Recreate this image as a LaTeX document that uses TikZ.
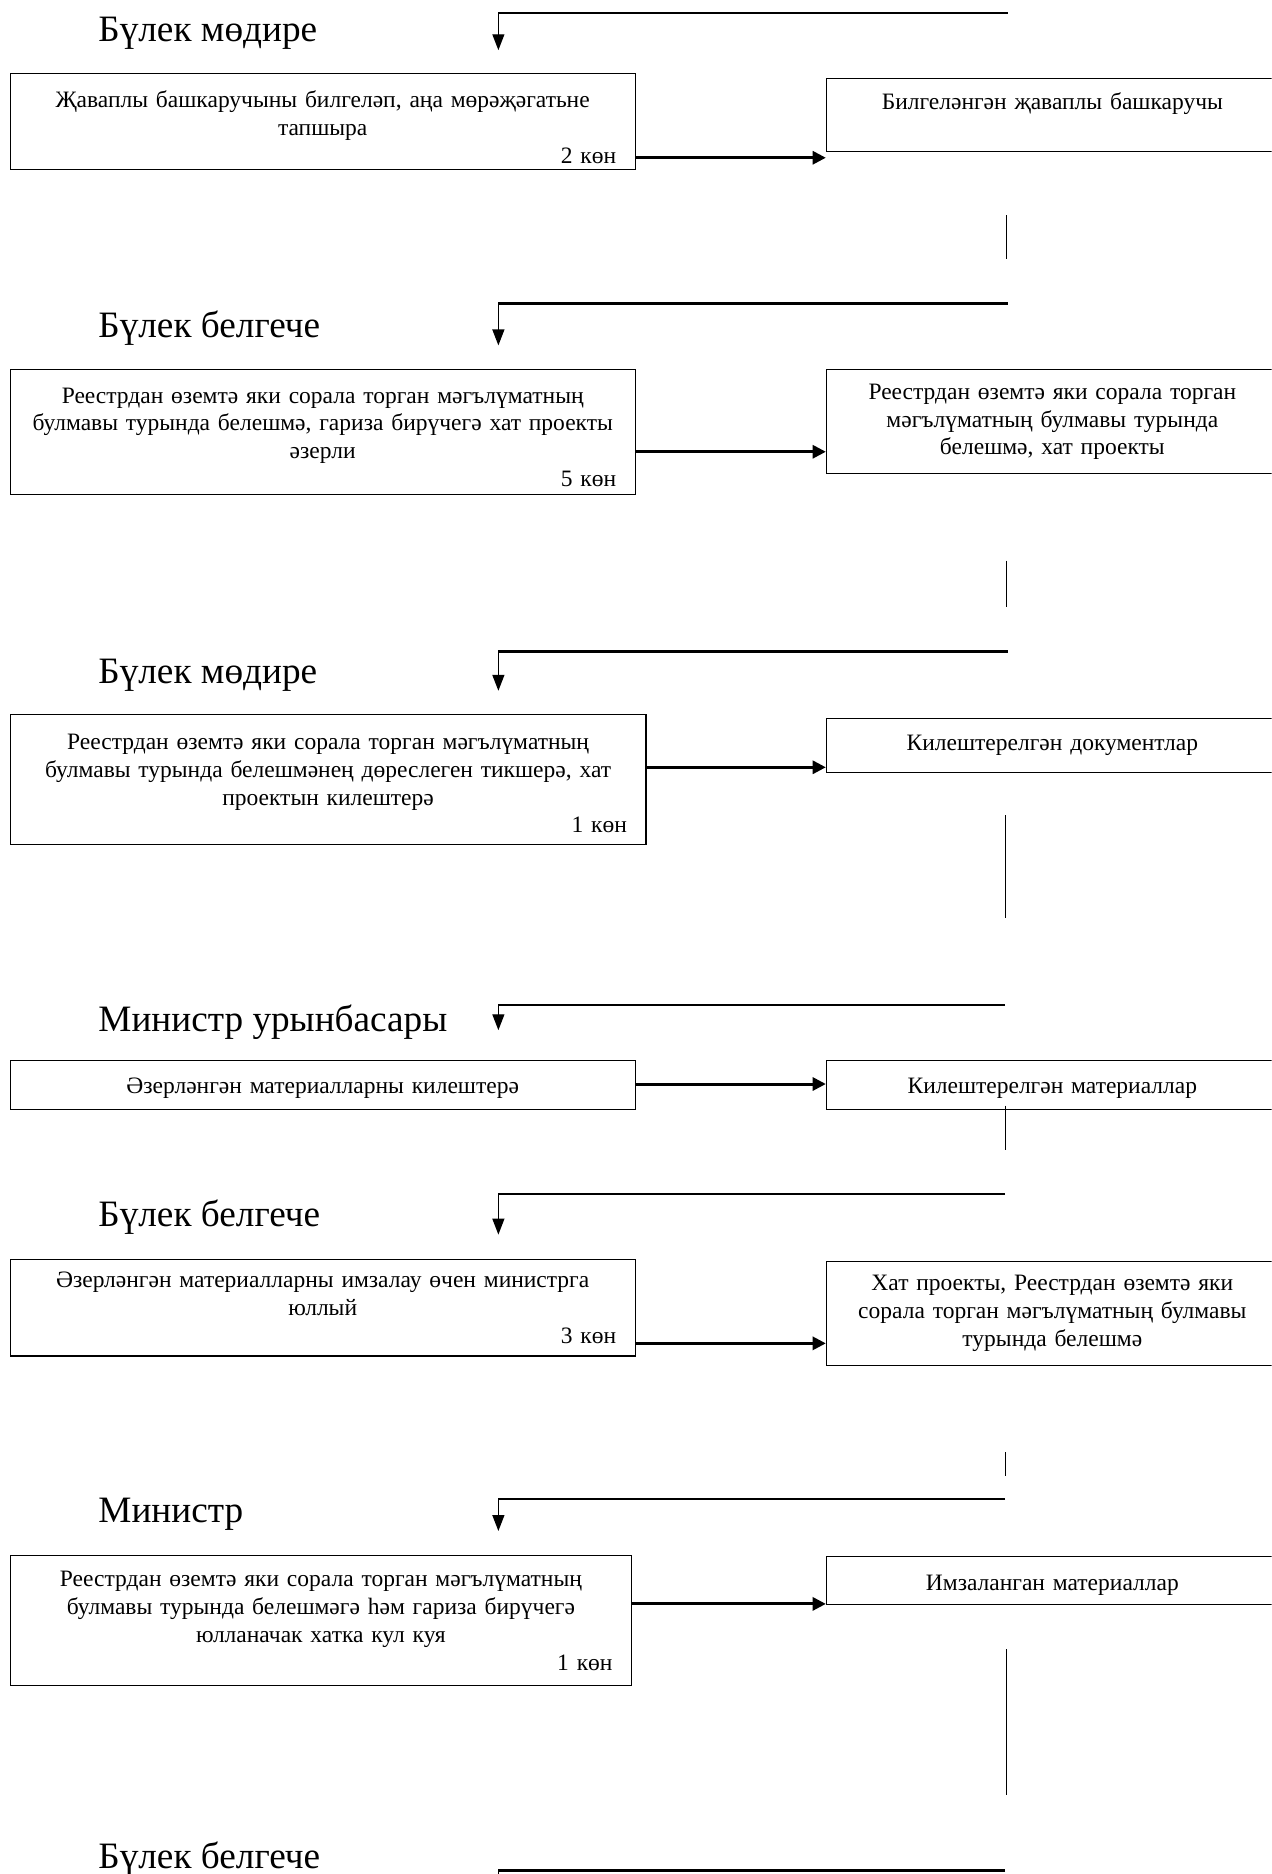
\documentclass[tikz,border=0pt]{standalone}
\usepackage{fontspec}
\setmainfont{Liberation Serif}
\usetikzlibrary{arrows.meta}
\begin{document}
\begin{tikzpicture}[x=0.6pt,y=-0.6pt]
  \tikzstyle{box}=[draw,line width=0.6pt,rectangle,anchor=north west,inner xsep=9.6pt,inner ysep=2pt,align=center,font=\fontsize{11.8}{14}\selectfont]
  \tikzstyle{rolehead}=[anchor=base west,inner sep=0pt,font=\fontsize{18.7}{22}\selectfont]
  \tikzstyle{flow}=[line width=1.5pt,-{Triangle[length=6.6pt,width=6.5pt]}]
  \tikzstyle{rail}=[line width=1.2pt]
  \tikzstyle{drop}=[line width=0.7pt,-{Triangle[length=8pt,width=6pt]}]
  \tikzstyle{vline}=[line width=0.6pt]
  \useasboundingbox (0,0) rectangle (1064,1568);
  \clip (0,0) rectangle (1064,1568);
  % row 1
  \node[rolehead] (g1) at (82,35) {Бүлек мөдире};
  \coordinate (t1) at (843,11);
  \coordinate (a1) at (417,42);
  \draw[rail] (t1) -- (t1 -| a1);
  \draw[drop] (t1 -| a1) -- (a1);
  \node[box,text width=294.6pt,minimum height=48pt] (l1) at (8,61)
    {\rule{0pt}{14pt}Җаваплы башкаручыны билгеләп, аңа мөрәҗәгатьне\\тапшыра\\\hspace*{\fill}2 көн};
  \node[box,text width=207.6pt,minimum height=36.6pt] (r1) at (691,65)
    {Билгеләнгән җаваплы башкаручы\\\mbox{}};
  \draw[flow] (l1.east |- 0,132) -- (r1.west |- 0,132);
  \coordinate (v1a) at (842,180);
  \coordinate (v1b) at (842,217);
  \draw[vline] (v1a) -- (v1b);
  % row 2
  \node[rolehead] (g2) at (82,282) {Бүлек белгече};
  \coordinate (t2) at (843,254);
  \coordinate (a2) at (417,289);
  \draw[rail] (t2) -- (t2 -| a2);
  \draw[drop] (t2 -| a2) -- (a2);
  \node[box,text width=294.6pt,minimum height=62.4pt] (l2) at (8,309)
    {\rule{0pt}{13pt}Реестрдан өземтә яки сорала торган мәгълүматның\\булмавы турында белешмә, гариза бирүчегә хат проекты\\әзерли\\\hspace*{\fill}5 көн};
  \node[box,text width=207.6pt,minimum height=52.2pt] (r2) at (691,309)
    {Реестрдан өземтә яки сорала торган\\мәгълүматның булмавы турында\\белешмә, хат проекты};
  \draw[flow] (l2.east |- 0,378) -- (r2.west |- 0,378);
  \coordinate (v2a) at (842,469);
  \coordinate (v2b) at (842,508);
  \draw[vline] (v2a) -- (v2b);
  % row 3
  \node[rolehead] (g3) at (82,572) {Бүлек мөдире};
  \coordinate (t3) at (843,545);
  \coordinate (a3) at (417,578);
  \draw[rail] (t3) -- (t3 -| a3);
  \draw[drop] (t3 -| a3) -- (a3);
  \node[box,text width=300pt,minimum height=65.4pt] (l3) at (8,597)
    {\rule{0pt}{12pt}Реестрдан өземтә яки сорала торган мәгълүматның\\булмавы турында белешмәнең дөреслеген тикшерә, хат\\проектын килештерә\\\hspace*{\fill}1 көн};
  \node[box,text width=207.6pt,minimum height=27pt] (r3) at (691,601)
    {Килештерелгән документлар};
  \draw[flow] (l3.east |- 0,642) -- (r3.west |- 0,642);
  \coordinate (v3a) at (841,682);
  \coordinate (v3b) at (841,768);
  \draw[vline] (v3a) -- (v3b);
  % row 4
  \node[rolehead] (g4) at (82,863) {Министр урынбасары};
  \coordinate (t4) at (841,841);
  \coordinate (a4) at (417,862);
  \draw[rail] (t4) -- (t4 -| a4);
  \draw[drop] (t4 -| a4) -- (a4);
  \node[box,text width=294.6pt,minimum height=24.6pt] (l4) at (8,887)
    {\rule{0pt}{11pt}Әзерләнгән материалларны килештерә};
  \node[box,text width=207.6pt,minimum height=24.6pt] (r4) at (691,887)
    {\rule{0pt}{11pt}Килештерелгән материаллар};
  \draw[flow] (l4.east |- 0,907) -- (r4.west |- 0,907);
  \coordinate (v4a) at (841,925);
  \coordinate (v4b) at (841,962);
  \draw[vline] (v4a) -- (v4b);
  % row 5
  \node[rolehead] (g5) at (82,1026) {Бүлек белгече};
  \coordinate (t5) at (841,999);
  \coordinate (a5) at (417,1033);
  \draw[rail] (t5) -- (t5 -| a5);
  \draw[drop] (t5 -| a5) -- (a5);
  \node[box,text width=294.6pt,minimum height=48.6pt] (l5) at (8,1053)
    {Әзерләнгән материалларны имзалау өчен министрга\\юллый\\\hspace*{\fill}3 көн};
  \node[box,text width=207.6pt,minimum height=52.2pt] (r5) at (691,1055)
    {Хат проекты, Реестрдан өземтә яки\\сорала торган мәгълүматның булмавы\\турында белешмә};
  \draw[flow] (l5.east |- 0,1124) -- (r5.west |- 0,1124);
  \coordinate (v5a) at (841,1215);
  \coordinate (v5b) at (841,1235);
  \draw[vline] (v5a) -- (v5b);
  % row 6
  \node[rolehead] (g6) at (82,1274) {Министр};
  \coordinate (t6) at (841,1254);
  \coordinate (a6) at (417,1281);
  \draw[rail] (t6) -- (t6 -| a6);
  \draw[drop] (t6 -| a6) -- (a6);
  \node[box,text width=292.8pt,minimum height=65.4pt] (l6) at (8,1301)
    {Реестрдан өземтә яки сорала торган мәгълүматның\\булмавы турында белешмәгә һәм гариза бирүчегә\\юлланачак хатка кул куя\\\hspace*{\fill}1 көн};
  \node[box,text width=207.6pt,minimum height=24pt] (r6) at (691,1302)
    {\rule{0pt}{12pt}Имзаланган материаллар};
  \draw[flow] (l6.east |- 0,1342) -- (r6.west |- 0,1342);
  \coordinate (v6a) at (842,1380);
  \coordinate (v6b) at (842,1502);
  \draw[vline] (v6a) -- (v6b);
  % row 7
  \node[rolehead] (g7) at (82,1563) {Бүлек белгече};
  \coordinate (t7) at (841,1565);
  \coordinate (a7) at (417,1590);
  \draw[rail] (t7) -- (t7 -| a7);
  \draw[drop] (t7 -| a7) -- (a7);
\end{tikzpicture}
\end{document}
